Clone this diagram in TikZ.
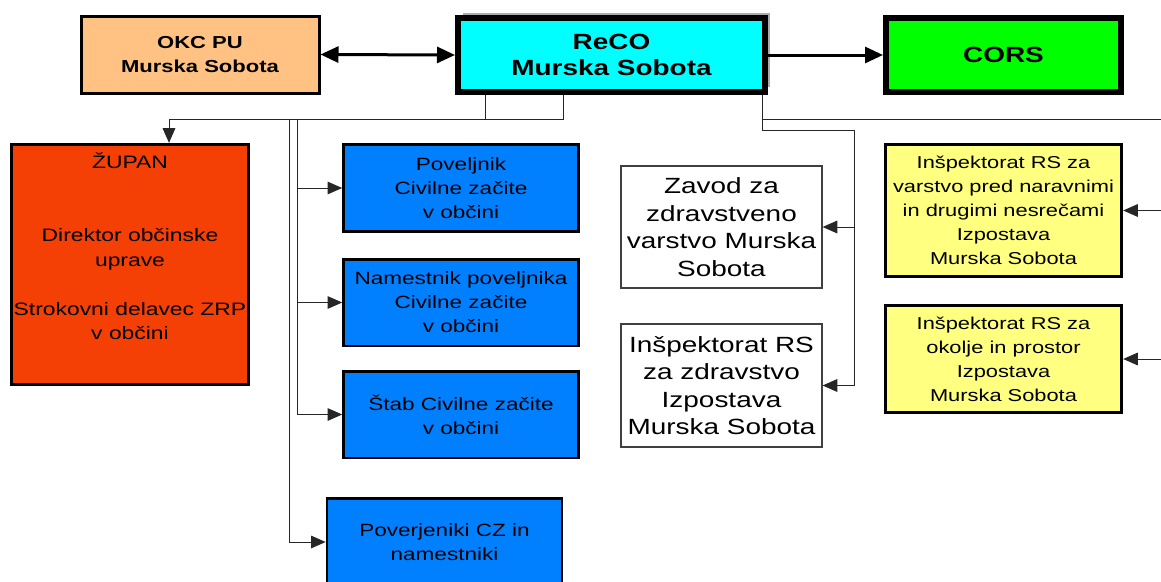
\documentclass[tikz,border=0pt]{standalone}
\usepackage{fontspec}
\setmainfont{Liberation Sans}[FakeStretch=1.27]
\usetikzlibrary{arrows.meta,shadows}

\definecolor{okccol}{RGB}{255,194,130}
\definecolor{recocol}{RGB}{0,255,255}
\definecolor{corscol}{RGB}{0,255,0}
\definecolor{zupancol}{RGB}{245,64,5}
\definecolor{czcol}{RGB}{0,128,255}
\definecolor{inspcol}{RGB}{255,255,128}

\tikzset{
  box/.style={draw=black, rectangle, inner sep=0pt, align=center, text=black},
  czbox/.style={box, fill=czcol, line width=2pt, minimum width=176.25pt,
    minimum height=65pt, font=\fontsize{13.3}{18}\selectfont},
  inspbox/.style={box, fill=inspcol, line width=2.5pt, minimum width=177pt,
    font=\fontsize{12.9}{18}\selectfont},
  zdrbox/.style={box, fill=white, draw=black!75, line width=0.9pt,
    minimum width=150.75pt, font=\fontsize{16.5}{20.6}\selectfont},
  link/.style={draw=black!85, line width=0.75pt},
  linkto/.style={-{Triangle[length=11pt,width=9.5pt]}},
  biglink/.style={draw=black, line width=2.25pt}
}

\begin{document}
\begin{tikzpicture}[x=0.75pt,y=-0.75pt]
\useasboundingbox (0,0) rectangle (1161,582);
\clip (0,0) rectangle (1161,582);

% top row
\node[box, fill=okccol, line width=2.25pt, minimum width=178.5pt, minimum height=57.75pt,
  font=\bfseries\fontsize{13}{18}\selectfont] (okc) at (200,54.5) {OKC PU\\Murska Sobota};
\node[box, fill=recocol, line width=4.5pt, minimum width=230.25pt, minimum height=55.5pt,
  font=\bfseries\fontsize{16.5}{20}\selectfont,
  drop shadow={shadow xshift=4pt, shadow yshift=4pt, fill=black!60, opacity=0.55}] (reco) at (611.5,55) {ReCO\\Murska Sobota};
\node[box, fill=corscol, line width=4.5pt, minimum width=176.25pt, minimum height=55.5pt,
  font=\bfseries\fontsize{16.5}{20}\selectfont] (cors) at (1003.5,55) {CORS};

% left
\node[box, fill=zupancol, line width=2.5pt, minimum width=177.75pt, minimum height=180pt,
  font=\fontsize{13.5}{18.4}\selectfont] (zupan) at (130,264.5)
  {ŽUPAN\\[36.8pt]Direktor občinske\\uprave\\[18.4pt]Strokovni delavec ZRP\\v občini\\[9pt]~};

% civilna zaščita
\node[czbox] (poveljnik) at (461,188) {Poveljnik\\Civilne začite\\v občini};
\node[czbox] (namestnik) at (461,302.5) {Namestnik poveljnika\\Civilne začite\\v občini};
\node[czbox] (stab) at (461,414.5) {Štab Civilne začite\\v občini};
\node[czbox] (poverjeniki) at (444.5,542) {Poverjeniki CZ in\\namestniki};

% zdravstvo
\node[zdrbox, minimum height=91.5pt] (zavod) at (721.5,227) {Zavod za\\zdravstveno\\varstvo Murska\\Sobota};
\node[zdrbox, minimum height=92.25pt] (inspzdr) at (721.5,385.5) {Inšpektorat RS\\za zdravstvo\\Izpostava\\Murska Sobota};

% inšpektorati
\node[inspbox, minimum height=99pt] (inspnes) at (1003.5,210.5)
  {Inšpektorat RS za\\varstvo pred naravnimi\\in drugimi nesrečami\\Izpostava\\Murska Sobota};
\node[inspbox, minimum height=80.25pt] (inspokl) at (1003.5,359)
  {Inšpektorat RS za\\okolje in prostor\\Izpostava\\Murska Sobota};

% connectors
\coordinate (busL) at (169,119);
\coordinate (tapA) at (485,119);
\coordinate (tapB) at (563,119);
\coordinate (trunkA) at (289,119);
\coordinate (trunkB) at (297,119);
\coordinate (tapC) at (762,130);
\coordinate (busR) at (854,130);
\coordinate (edgeTop) at (1161,119);
\coordinate (edge) at (1161,0);

\draw[biglink, {Triangle[length=13.5pt,width=12pt]}-{Triangle[length=13.5pt,width=12pt]}] (okc.east) -- (reco.west);
\draw[biglink, -{Triangle[length=13.5pt,width=12pt]}] (reco.east) -- (cors.west);

\draw[link] (reco.south -| tapA) -- (tapA);
\draw[link] (reco.south -| tapB) -- (tapB) -- (busL);
\draw[link,linkto] (busL) -- (zupan.north -| busL);
\draw[link,linkto] (trunkA) |- (poverjeniki.west);
\draw[link,linkto] (trunkB) |- (poveljnik.west);
\draw[link,linkto] (trunkB) |- (namestnik.west);
\draw[link,linkto] (trunkB) |- (stab.west);

\draw[link] (reco.south -| tapC) -- (tapC) -- (busR);
\draw[link] (tapC |- edgeTop) -- (edgeTop);
\draw[link,linkto] (busR) |- (zavod.east);
\draw[link,linkto] (busR) |- (inspzdr.east);
\draw[link,linkto] (inspnes.east -| edge) -- (inspnes.east);
\draw[link,linkto] (inspokl.east -| edge) -- (inspokl.east);
\end{tikzpicture}
\end{document}
